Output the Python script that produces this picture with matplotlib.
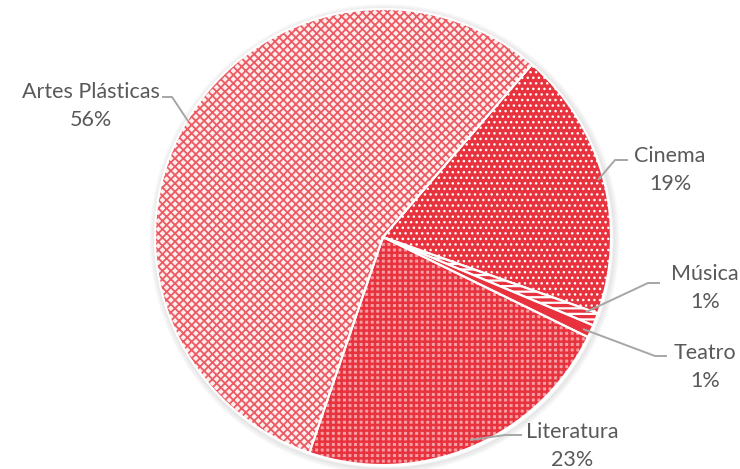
import numpy as np
import matplotlib
matplotlib.use("Agg")
import matplotlib.pyplot as plt
from matplotlib.patches import Circle

plt.rcParams['font.family'] = ['Lato', 'DejaVu Sans']

# data (order as drawn clockwise from the upper right)
categories = ['Cinema', 'Música', 'Teatro', 'Literatura', 'Artes Plásticas']
shares = [19.1, 0.9, 0.9, 23.0, 56.1]

red = '#E8333E'
faces = [red, red, red, '#F59DA3', '#FDEDED']
hatches = ['...', '---', '', '+++', 'xxxx']
hcolors = ['white', 'white', red, red, '#EC5A63']
hwidths = [1.0, 1.6, 1.0, 1.8, 1.3]

W, H = 740, 469
fig = plt.figure(figsize=(W / 100, H / 100), dpi=100)
ax = fig.add_axes([0, 0, 1, 1])

cx, cy, r = 383, H - 237, 228

# soft shadow behind the pie
for k in range(6):
    ax.add_patch(Circle((cx + 1.5, cy - 2), r + 1 + k, facecolor='none',
                        edgecolor='#000000', alpha=0.05 - k * 0.007, lw=1.6, zorder=0))

wedges, _ = ax.pie(shares, startangle=49.2, counterclock=False,
                   center=(cx, cy), radius=r, frame=False)
for w, fc, h, hc, hw in zip(wedges, faces, hatches, hcolors, hwidths):
    w.set_facecolor(fc)
    w.set_hatch(h)
    w.set_edgecolor(hc)
    w.set_linewidth(0)
    if hasattr(w, 'set_hatch_linewidth'):
        w.set_hatch_linewidth(hw)
    w.set_zorder(1)

# white borders between slices
borders, _ = ax.pie(shares, startangle=49.2, counterclock=False,
                    center=(cx, cy), radius=r, frame=False,
                    wedgeprops=dict(fill=False, edgecolor='white', linewidth=1.5))
for b in borders:
    b.set_zorder(2)

ax.set_xlim(0, W)
ax.set_ylim(0, H)
ax.set_aspect('equal')
ax.axis('off')

# labels: text centre, leader line points (pixel coords, y down)
label_pos = [(670, 170), (705, 288), (705, 367), (572, 446), (91, 106)]
leaders = [
    [(628, 160), (615, 160), (598, 180)],
    [(660, 283), (648, 283), (586, 312)],
    [(667, 356), (655, 356), (583, 329)],
    [(522, 435), (505, 435), (470, 440)],
    [(162, 97), (172, 97), (188, 121)],
]
grey = '#595959'
for name, s, (tx, ty), pts in zip(categories, shares, label_pos, leaders):
    ax.text(tx, H - ty, f'{name}\n{round(s):.0f}%', ha='center', va='center',
            fontsize=15.5, color=grey, linespacing=1.45, zorder=5)
    xs = [p[0] for p in pts]
    ys = [H - p[1] for p in pts]
    ax.plot(xs, ys, color='#A6A6A6', lw=1.4, zorder=4, solid_capstyle='butt')

fig.savefig('out.png', dpi=100)
